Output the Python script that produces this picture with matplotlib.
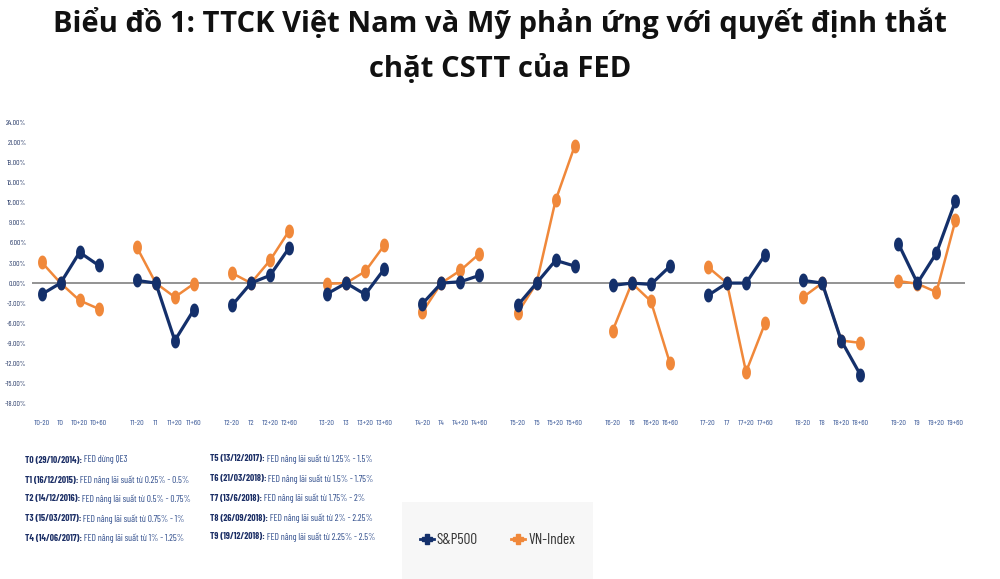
import numpy as np
import matplotlib
matplotlib.use("Agg")
import matplotlib.pyplot as plt
from matplotlib.path import Path
from matplotlib.lines import Line2D

plt.rcParams['font.family'] = ['Open Sans', 'DejaVu Sans']
narrow = ['Barlow Condensed', 'Roboto Condensed', 'Carlito', 'DejaVu Sans']

# data (% change)
events = ['T0', 'T1', 'T2', 'T3', 'T4', 'T5', 'T6', 'T7', 'T8', 'T9']
offsets = ['-20', '', '+20', '+60']
sp500 = [
    [-1.7, 0.0, 4.6, 2.65],
    [0.4, 0.0, -8.6, -4.0],
    [-3.35, 0.0, 1.15, 5.25],
    [-1.6, 0.0, -1.7, 2.1],
    [-3.1, 0.0, 0.2, 1.15],
    [-3.35, 0.0, 3.4, 2.55],
    [-0.35, 0.0, -0.2, 2.5],
    [-1.85, 0.0, 0.0, 4.25],
    [0.4, 0.0, -8.6, -13.7],
    [5.9, 0.0, 4.5, 12.3],
]
vnindex = [
    [3.15, 0.0, -2.6, -3.85],
    [5.4, 0.0, -2.1, -0.1],
    [1.5, 0.0, 3.4, 7.8],
    [-0.1, 0.0, 1.75, 5.65],
    [-4.35, 0.0, 1.9, 4.4],
    [-4.5, 0.0, 12.4, 20.5],
    [-7.1, 0.0, -2.7, -11.95],
    [2.4, 0.0, -13.3, -6.0],
    [-2.1, 0.0, -8.6, -8.95],
    [0.3, -0.1, -1.35, 9.4],
]
notes_left = [
    ('T0 (29/10/2014):', ' FED dừng QE3'),
    ('T1 (16/12/2015):', ' FED nâng lãi suất từ 0.25% - 0.5%'),
    ('T2 (14/12/2016):', ' FED nâng lãi suất từ 0.5% - 0.75%'),
    ('T3 (15/03/2017):', ' FED nâng lãi suất từ 0.75% - 1%'),
    ('T4 (14/06/2017):', ' FED nâng lãi suất từ 1% - 1.25%'),
]
notes_right = [
    ('T5 (13/12/2017):', ' FED nâng lãi suất từ 1.25% - 1.5%'),
    ('T6 (21/03/2018):', ' FED nâng lãi suất từ 1.5% - 1.75%'),
    ('T7 (13/6/2018):', ' FED nâng lãi suất từ 1.75% - 2%'),
    ('T8 (26/09/2018):', ' FED nâng lãi suất từ 2% - 2.25%'),
    ('T9 (19/12/2018):', ' FED nâng lãi suất từ 2.25% - 2.5%'),
]

navy = '#14306b'
orange = '#f0883a'
tickblue = '#3b5998'

# vertical oval marker
t = np.linspace(0, 2 * np.pi, 40)
oval = Path(np.column_stack([0.6 * np.cos(t), np.sin(t)]))

fig = plt.figure(figsize=(10, 5.79), dpi=100)
fig.text(0.5, 0.961, 'Biểu đồ 1: TTCK Việt Nam và Mỹ phản ứng với quyết định thắt',
         ha='center', va='center', fontsize=21, fontweight='bold', color='#111111')
fig.text(0.5, 0.880, 'chặt CSTT của FED',
         ha='center', va='center', fontsize=21, fontweight='bold', color='#111111')

ax = fig.add_axes([0.032, 0.3034, 0.933, 0.4846])
xt, xl = [], []
for g, ev in enumerate(events):
    x = [5 * g + i for i in range(4)]
    ax.plot(x, sp500[g], color=navy, lw=2.3, marker=oval, ms=9, zorder=3)
    ax.plot(x, vnindex[g], color=orange, lw=1.8, marker=oval, ms=9, zorder=2)
    for i, o in enumerate(offsets):
        xt.append(5 * g + i)
        xl.append(ev + o)

ax.axhline(0, color='#8a8a8a', lw=1.3, zorder=1)
ax.set_xlim(-0.5, 48.5)
ax.set_ylim(-18, 24)
ax.set_yticks(np.arange(-18, 25, 3))
ax.set_yticklabels(['%.2f%%' % v for v in np.arange(-18, 25, 3)], family=narrow)
ax.set_xticks(xt)
ax.set_xticklabels(xl, family=narrow)
ax.tick_params(axis='y', length=0, labelsize=5.5, labelcolor='#2c3e6b', pad=4)
ax.tick_params(axis='x', length=0, labelsize=5.8, labelcolor=tickblue, pad=12)
for s in ax.spines.values():
    s.set_visible(False)

# notes below the chart
fig.canvas.draw()
r = fig.canvas.get_renderer()

def width(s, size, weight):
    tt = fig.text(0, 0, s, fontsize=size, fontweight=weight, family=narrow)
    w = tt.get_window_extent(renderer=r).width
    tt.remove()
    return w

# pick a size so that the T1 line fits its width in the reference
w10 = width(notes_left[1][0], 10, 'bold') + width(notes_left[1][1], 10, 'normal')
fs = 10 * 165 / w10

def note(x, y, b, rest):
    tb = fig.text(x, y, b, fontsize=fs, fontweight='bold', color='#1c2f66',
                  va='center', family=narrow)
    w = tb.get_window_extent(renderer=r).width / fig.bbox.width
    fig.text(x + w, y, rest, fontsize=fs, color='#2c4a8a', va='center', family=narrow)

for (b, rest), yy in zip(notes_left, [460, 480, 499, 519, 538]):
    note(0.025, 1 - yy / 579, b, rest)
for (b, rest), yy in zip(notes_right, [459, 479, 498, 518, 537]):
    note(0.21, 1 - yy / 579, b, rest)

# legend box
box = fig.add_axes([0.402, 0.0, 0.191, 1 - 502 / 579])
box.set_facecolor('#f7f7f7')
box.set_xticks([])
box.set_yticks([])
for s in box.spines.values():
    s.set_visible(False)
handles = [Line2D([], [], color=navy, lw=2, marker='P', ms=7),
           Line2D([], [], color=orange, lw=2, marker='P', ms=7)]
box.legend(handles, ['S&P500', 'VN-Index'], loc='center', ncol=2, frameon=False,
           prop={'family': narrow, 'size': 11}, handlelength=0.9,
           handletextpad=0.2, columnspacing=2.2, labelcolor='#333333')

fig.savefig('out.png', dpi=100)
